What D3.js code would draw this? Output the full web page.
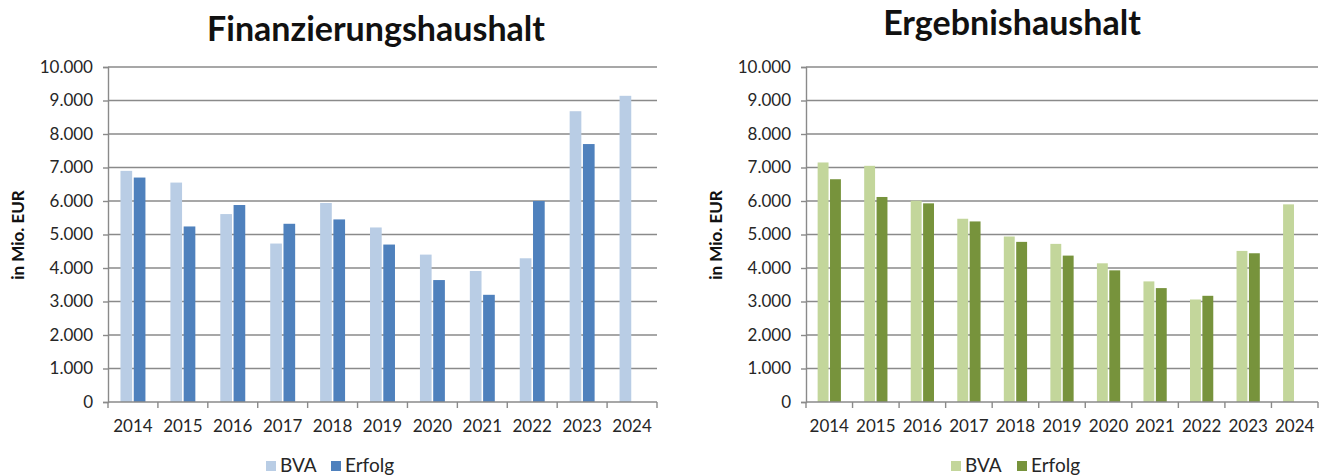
<!DOCTYPE html>
<html>
<head>
<meta charset="utf-8">
<script src="https://cdn.jsdelivr.net/npm/d3@7"></script>
<style>
  body { margin: 0; background: #fff; }
  svg { display: block; font-family: Lato, "Open Sans", sans-serif; }
</style>
</head>
<body>
<svg id="chart" width="1333" height="476"></svg>
<script>
// years shown on both charts
const years = ['2014', '2015', '2016', '2017', '2018', '2019', '2020', '2021', '2022', '2023', '2024'];
const seriesNames = ['BVA', 'Erfolg'];
const yTicks = [0, 1000, 2000, 3000, 4000, 5000, 6000, 7000, 8000, 9000, 10000];

// Finanzierungshaushalt (Mio. EUR)
const finBVA = [6900, 6550, 5610, 4730, 5940, 5210, 4400, 3910, 4290, 8680, 9140];
const finErfolg = [6700, 5240, 5880, 5320, 5450, 4700, 3640, 3200, 6000, 7700, null];

// Ergebnishaushalt (Mio. EUR)
const ergBVA = [7150, 7050, 6010, 5470, 4940, 4720, 4140, 3600, 3060, 4510, 5900];
const ergErfolg = [6650, 6120, 5930, 5390, 4780, 4370, 3930, 3400, 3170, 4440, null];

const svg = d3.select('#chart');
const fmt = d3.format(',');
const tickFmt = v => fmt(v).replace(/,/g, '.');

/**
 * Draw one grouped bar chart.
 */
function drawChart(opts) {
  const g = svg.append('g');
  const left = opts.left, right = opts.right, top = 67, bottom = 402;

  const x0 = d3.scaleBand().domain(years).range([left, right]).padding(0);
  const bw = x0.bandwidth();
  const x1 = d3.scaleBand().domain(seriesNames)
    .range([bw * 0.25, bw * 0.75]).paddingInner(0.12);
  const y = d3.scaleLinear().domain([0, 10000]).range([bottom, top]);

  // gridlines
  g.append('g').selectAll('line').data(yTicks.slice(1)).join('line')
    .attr('x1', left).attr('x2', right)
    .attr('y1', d => y(d)).attr('y2', d => y(d))
    .attr('stroke', '#8a8a8a').attr('stroke-width', 1.4);

  // bars
  const rows = years.map((yr, i) => ({ year: yr, values: [opts.bva[i], opts.erfolg[i]] }));
  g.append('g').selectAll('g').data(rows).join('g')
    .attr('transform', d => `translate(${x0(d.year)},0)`)
    .selectAll('rect')
    .data(d => d.values.map((v, k) => ({ key: seriesNames[k], value: v })).filter(d => d.value != null))
    .join('rect')
    .attr('x', d => x1(d.key))
    .attr('width', x1.bandwidth())
    .attr('y', d => y(d.value))
    .attr('height', d => y(0) - y(d.value))
    .attr('fill', d => d.key === 'BVA' ? opts.colors[0] : opts.colors[1]);

  // y axis
  const yAxis = g.append('g').attr('transform', `translate(${left},0)`)
    .call(d3.axisLeft(y).tickValues(yTicks).tickFormat(tickFmt).tickSize(5).tickPadding(10));
  yAxis.select('.domain').attr('stroke', '#8a8a8a').attr('stroke-width', 1.4);
  yAxis.selectAll('.tick line').attr('stroke', '#8a8a8a').attr('stroke-width', 1.4);
  yAxis.selectAll('.tick text').attr('font-size', 17).attr('fill', '#262626')
    .attr('font-family', 'Lato, sans-serif');

  // x axis: baseline + ticks on category boundaries
  const xAxis = g.append('g').attr('transform', `translate(0,${bottom})`);
  xAxis.append('line').attr('x1', left).attr('x2', right)
    .attr('stroke', '#8a8a8a').attr('stroke-width', 1.4);
  const bounds = years.map(d => x0(d)).concat([right]);
  xAxis.selectAll('line.b').data(bounds).join('line').attr('class', 'b')
    .attr('x1', d => d).attr('x2', d => d).attr('y1', 0).attr('y2', 6)
    .attr('stroke', '#8a8a8a').attr('stroke-width', 1.4);
  xAxis.selectAll('text').data(years).join('text')
    .attr('x', d => x0(d) + bw / 2).attr('y', 30)
    .attr('text-anchor', 'middle').attr('font-size', 17).attr('fill', '#262626')
    .text(d => d);

  // title
  g.append('text').attr('x', opts.titleX).attr('y', opts.titleY)
    .attr('text-anchor', 'middle').attr('font-size', 34).attr('font-weight', 700)
    .attr('fill', '#111').text(opts.title);

  // y axis title
  g.append('text')
    .attr('transform', `translate(${opts.yTitleX},235) rotate(-90)`)
    .attr('text-anchor', 'middle').attr('font-size', 17).attr('font-weight', 700)
    .attr('fill', '#111').text('in Mio. EUR');

  // legend
  const lg = g.append('g').attr('transform', `translate(${opts.legendX},472)`);
  const items = [{ name: 'BVA', dx: 0 }, { name: 'Erfolg', dx: opts.legendGap }];
  items.forEach((it, k) => {
    lg.append('rect').attr('x', it.dx).attr('y', -11).attr('width', 10).attr('height', 10)
      .attr('fill', opts.colors[k]);
    lg.append('text').attr('x', it.dx + 14).attr('y', 0)
      .attr('font-size', 19).attr('fill', '#262626').text(it.name);
  });
}

drawChart({
  title: 'Finanzierungshaushalt', titleX: 376, titleY: 41,
  left: 108, right: 657, yTitleX: 24, legendX: 266, legendGap: 65,
  bva: finBVA, erfolg: finErfolg, colors: ['#b9cde5', '#4f81bd']
});

drawChart({
  title: 'Ergebnishaushalt', titleX: 1012, titleY: 35,
  left: 806, right: 1318, yTitleX: 722, legendX: 951, legendGap: 66,
  bva: ergBVA, erfolg: ergErfolg, colors: ['#c3d69b', '#77933c']
});
</script>
</body>
</html>
